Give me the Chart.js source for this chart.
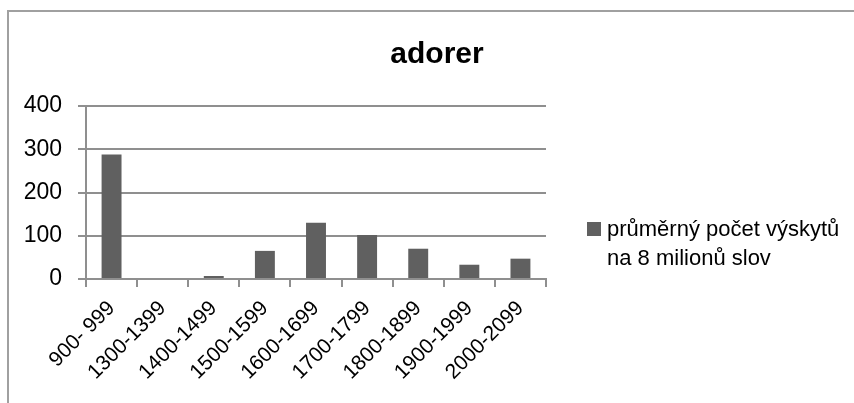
<!DOCTYPE html>
<html lang="cs">
<head>
<meta charset="UTF-8">
<title>adorer</title>
<script src="https://cdn.jsdelivr.net/npm/chart.js"></script>
<style>
    html, body { margin: 0; padding: 0; background: #fff; overflow: hidden; }
    /* rámeček grafu, vpravo a dole přesahuje okno */
    .frame {
        position: absolute;
        left: 7px;
        top: 10px;
        width: 856px;
        height: 400px;
        border: 2px solid #a0a0a0;
    }
    .frame canvas { display: block; }
</style>
</head>
<body>
<div class="frame"><canvas id="chart" width="856" height="392"></canvas></div>

<script>
const categories = ['900- 999', '1300-1399', '1400-1499', '1500-1599', '1600-1699',
                    '1700-1799', '1800-1899', '1900-1999', '2000-2099'];
const values = [288, 0, 7, 65, 130, 102, 70, 33, 47];
const yTicks = [0, 100, 200, 300, 400];
const seriesLabel = ['průměrný počet výskytů', 'na 8 milionů slov'];

const FONT = "'Liberation Sans', Arial, sans-serif";
const GRID = '#8f8f8f';
const BAR = '#606060';

Chart.defaults.font.family = FONT;
Chart.defaults.color = '#000';

// legenda vpravo jako vlastní box v layoutu (text na dva řádky)
const sideLegend = {
    id: 'sideLegend',
    start(chart) {
        const box = {
            position: 'right',
            weight: 0,
            fullSize: false,
            options: {},
            isHorizontal() { return false; },
            update(maxWidth, maxHeight) {
                this.width = 319;
                this.height = maxHeight;
            },
            draw() {
                const ctx = chart.ctx;
                const ds = chart.data.datasets[0];
                const top = chart.chartArea.top;
                ctx.save();
                ctx.fillStyle = ds.backgroundColor;
                ctx.fillRect(this.left + 41, top + 116, 14, 14);
                ctx.fillStyle = '#000';
                ctx.font = '22px ' + FONT;
                ctx.textBaseline = 'alphabetic';
                ctx.textAlign = 'left';
                ds.label.forEach((line, i) => {
                    ctx.fillText(line, this.left + 61, top + 130 + i * 29);
                });
                ctx.restore();
            }
        };
        Chart.layouts.addBox(chart, box);
    }
};

new Chart(document.getElementById('chart'), {
    type: 'bar',
    data: {
        labels: categories,
        datasets: [{
            label: seriesLabel,
            data: values,
            backgroundColor: BAR,
            borderWidth: 0,
            barPercentage: 1,
            categoryPercentage: 0.39
        }]
    },
    options: {
        responsive: false,
        animation: false,
        layout: { padding: 0 },
        scales: {
            x: {
                afterFit(scale) { scale.height = 125; },
                grid: {
                    drawOnChartArea: false,
                    drawTicks: true,
                    tickLength: 8,
                    color: GRID,
                    lineWidth: 2
                },
                border: { color: GRID, width: 2 },
                ticks: {
                    font: { size: 21 },
                    color: '#000',
                    minRotation: 45,
                    maxRotation: 45,
                    padding: 9,
                    autoSkip: false
                }
            },
            y: {
                min: 0,
                max: 400,
                afterFit(scale) { scale.width = 77; },
                afterBuildTicks(scale) {
                    scale.ticks = yTicks.map(v => ({ value: v }));
                },
                grid: {
                    color: GRID,
                    lineWidth: 2,
                    tickLength: 8
                },
                border: { color: GRID, width: 2 },
                ticks: {
                    font: { size: 23 },
                    color: '#000',
                    padding: 16
                }
            }
        },
        plugins: {
            legend: { display: false },
            tooltip: { enabled: false },
            title: {
                display: true,
                text: 'adorer',
                color: '#000',
                font: { size: 30, weight: 'bold' },
                padding: { top: 24.5, bottom: 33.5 }
            }
        }
    },
    plugins: [sideLegend]
});
</script>
</body>
</html>
